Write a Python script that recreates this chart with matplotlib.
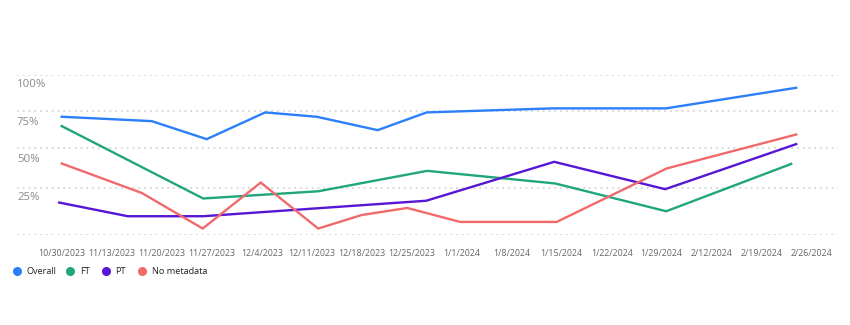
import matplotlib.pyplot as plt
from matplotlib.lines import Line2D

# x labels (categorical, evenly spaced)
week_labels = ['10/30/2023', '11/13/2023', '11/20/2023', '11/27/2023', '12/4/2023',
               '12/11/2023', '12/18/2023', '12/25/2023', '1/1/2024', '1/8/2024',
               '1/15/2024', '1/22/2024', '1/29/2024', '2/12/2024', '2/19/2024',
               '2/26/2024']

# series: x position (in label units) and value (%)
overall_x = [0, 1.8, 2.9, 4.07, 5.1, 6.32, 7.3, 9.83, 12.09, 14.69]
overall_y = [78.7, 75.8, 63.8, 81.6, 78.7, 69.8, 81.6, 84.3, 84.3, 98.0]

ft_x = [0, 2.83, 5.13, 7.31, 9.87, 12.09, 14.59]
ft_y = [72.5, 24.3, 29.1, 42.7, 34.3, 15.8, 47.3]

pt_x = [-0.05, 1.32, 2.83, 7.29, 9.85, 12.07, 14.69]
pt_y = [21.6, 12.5, 12.5, 22.8, 48.7, 30.5, 60.5]

nometa_x = [0, 1.6, 2.82, 3.98, 5.13, 6.0, 6.91, 7.97, 9.9, 12.1, 14.69]
nometa_y = [47.6, 28.0, 4.3, 34.9, 4.3, 13.3, 18.0, 8.7, 8.7, 44.3, 66.9]

y_ticks = [25, 50, 75, 100]
grid_vals = [0, 31, 58, 82.7, 106.5]

series = [
    ('Overall', overall_x, overall_y, '#2b7ff8'),
    ('FT', ft_x, ft_y, '#1fa67b'),
    ('PT', pt_x, pt_y, '#5616d4'),
    ('No metadata', nometa_x, nometa_y, '#f06a6b'),
]

plt.rcParams['font.family'] = ['Open Sans', 'DejaVu Sans']

fig = plt.figure(figsize=(8.5, 3.25), dpi=100)
ax = fig.add_axes([17 / 850, 1 - 235 / 325, (838 - 17) / 850, 160 / 325])
ax.set_xlim((17 - 61.7) / 50, (838 - 61.7) / 50)
ax.set_ylim(0, 106.5)

for g in grid_vals:
    ax.axhline(g, color='#d6d6d6', lw=1.3, ls=(0, (1, 2.2)), zorder=0)

for name, xs, ys, c in series:
    ax.plot(xs, ys, color=c, lw=1.7, solid_joinstyle='miter', label=name)

for t in y_ticks:
    ax.text(0, t, f'{t}%', transform=ax.get_yaxis_transform(),
            ha='left', va='center', fontsize=8.2, color='#8a8a8a')

ax.set_xticks(range(len(week_labels)))
ax.set_xticklabels(week_labels, fontsize=6.4, color='#666666')
ax.tick_params(axis='x', length=0, pad=10)
ax.set_yticks([])
for s in ax.spines.values():
    s.set_visible(False)

# legend, drawn by hand
leg_y = 1 - 271 / 325
marker_px = [17.3, 70.3, 106, 142.3]
for (name, _, _, c), mx in zip(series, marker_px):
    fig.add_artist(Line2D([mx / 850], [leg_y], ls='', marker='o', ms=5.5,
                          color=c, transform=fig.transFigure))
    fig.text((mx + 9.5) / 850, leg_y, name, ha='left', va='center',
             fontsize=6.6, color='#222222')

fig.savefig('out.png', dpi=100)
